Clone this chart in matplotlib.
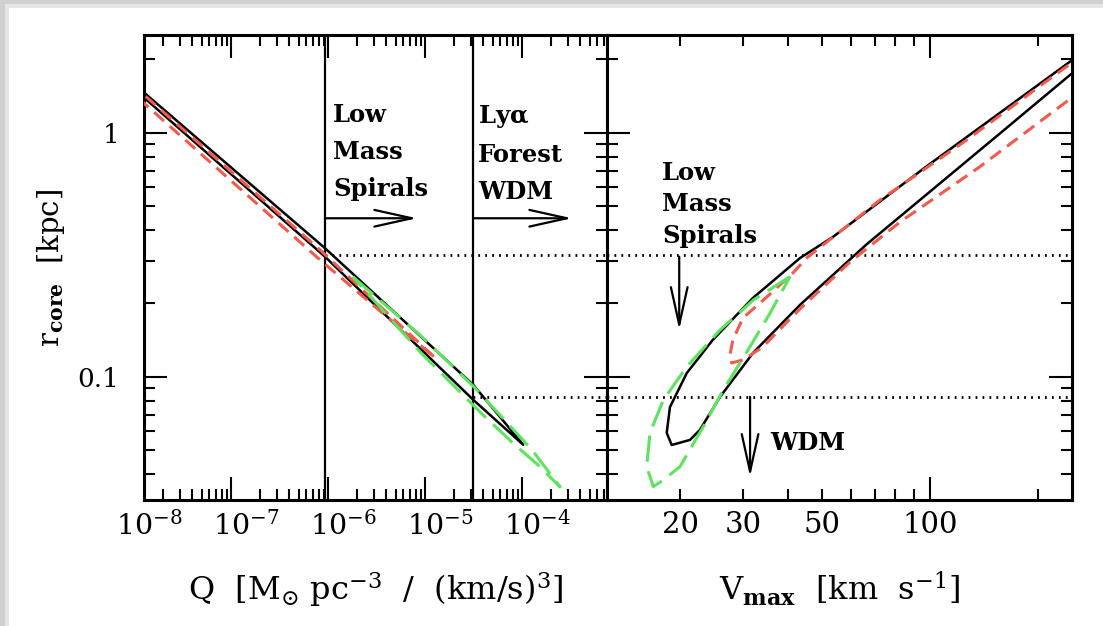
import matplotlib
matplotlib.use('Agg')
import matplotlib.pyplot as plt
import matplotlib.transforms as mtrans
from matplotlib.patches import Rectangle
from matplotlib.ticker import LogLocator, NullFormatter, FixedLocator, FixedFormatter

plt.rcParams['font.family'] = ['DejaVu Serif']
plt.rcParams['mathtext.fontset'] = 'dejavuserif'
plt.rcParams['lines.scale_dashes'] = False

# ---------------- data: left panel (Q vs r_core) ----------------
Q_black_up = [7.17e-9, 1.27e-8, 9.31e-7, 3.15e-5, 1.03e-4]
r_black_up = [1.778, 1.463, 0.337, 0.0927, 0.0527]
Q_black_lo = [7.17e-9, 1.27e-8, 9.31e-7, 3.15e-5, 1.03e-4]
r_black_lo = [1.702, 1.395, 0.311, 0.0805, 0.0527]

Q_red_up = [9.1e-9, 1.27e-8, 8.28e-7, 1.27e-5]
r_red_up = [1.607, 1.431, 0.3316, 0.1197]
Q_red_lo = [9.1e-9, 1.27e-8, 8.28e-7, 1.27e-5]
r_red_lo = [1.489, 1.323, 0.3017, 0.1197]

Q_green = [1.81e-6, 8.88e-6, 3.28e-5, 1.27e-4, 2.47e-4, 1.46e-4, 8.47e-5, 3.87e-5, 8.88e-6, 1.81e-6]
r_green = [0.257, 0.1486, 0.0901, 0.0502, 0.0354, 0.0436, 0.0526, 0.0705, 0.1266, 0.257]

# ---------------- data: right panel (Vmax vs r_core) ----------------
V_black = [271.4, 246.4, 96.9, 53.7, 43.3, 32.0, 24.7, 20.9, 18.75, 18.36, 18.96,
           21.33, 22.74, 25.88, 32.0, 43.3, 66.5, 96.9, 157.0, 246.4, 271.4]
rV_black = [2.148, 1.960, 0.722, 0.376, 0.307, 0.2108, 0.1418, 0.1038, 0.0753, 0.0590, 0.0526,
            0.0552, 0.0607, 0.0828, 0.1254, 0.1973, 0.3495, 0.553, 0.996, 1.729, 1.918]

V_red = [271.4, 246.4, 126.7, 72.5, 45.2, 41.4, 35.0, 30.0, 28.1, 27.6, 27.9,
         30.0, 34.1, 39.6, 43.3, 59.8, 82.5, 138.0, 246.4, 271.4]
rV_red = [2.127, 1.918, 0.936, 0.531, 0.3074, 0.2668, 0.2128, 0.1745, 0.1418, 0.1231, 0.1141,
          0.1174, 0.1327, 0.1665, 0.1900, 0.2960, 0.4317, 0.7276, 1.378, 1.486]

V_green = [40.6, 32.1, 25.88, 20.9, 17.96, 16.48, 16.14, 16.84, 17.96, 20.0,
           23.24, 26.44, 30.7, 35.7, 40.6]
rV_green = [0.2577, 0.2068, 0.1558, 0.1102, 0.0804, 0.0588, 0.0429, 0.0355, 0.0378, 0.0429,
            0.0626, 0.0885, 0.1261, 0.1824, 0.2577]

# limits / markers
Q_lowmass = 9.31e-7
Q_lya = 3.14e-5
r_lowmass = 0.316
r_wdm = 0.0828
Q_ticks = [1e-8, 1e-7, 1e-6, 1e-5, 1e-4]
Q_ticklabels = [r'$10^{-8}$', r'$10^{-7}$', r'$10^{-6}$', r'$10^{-5}$', r'$10^{-4}$']
V_minor = [20, 30, 40, 50, 60, 70, 80, 90, 200]
V_minor_labels = ['20', '30', '', '50', '', '', '', '', '']
V_major = [100]
V_major_labels = ['100']
r_ticks = [0.1, 1]
r_ticklabels = ['0.1', '1']

RED = '#f25a4c'
GREEN = '#5ee35e'
W, H = 1103, 626

fig = plt.figure(figsize=(W / 100, H / 100), dpi=100)
fig.patch.set_facecolor('#d0d0d0')
fig.add_artist(Rectangle((5 / W, 0), 1, 1 - 4 / H, transform=fig.transFigure,
                         facecolor='#e6e6e6', edgecolor='none', zorder=-11))
fig.add_artist(Rectangle((9 / W, 0), 1, 1 - 8 / H, transform=fig.transFigure,
                         facecolor='white', edgecolor='none', zorder=-10))

x0, xm, x1 = 144 / W, 607 / W, 1072 / W
yb, yt = 1 - 500 / H, 1 - 35 / H
axL = fig.add_axes([x0, yb, xm - x0, yt - yb])
axR = fig.add_axes([xm, yb, x1 - xm, yt - yb], sharey=axL)

ylim = (0.0313, 2.52)
for ax in (axL, axR):
    ax.set_xscale('log')
    ax.set_yscale('log')
    ax.set_ylim(*ylim)
    for s in ax.spines.values():
        s.set_linewidth(2.2)
    ax.tick_params(which='both', direction='in', top=True, right=True, width=1.5)
    ax.tick_params(which='major', length=16.5)
    ax.tick_params(which='minor', length=8)
    ax.yaxis.set_major_locator(FixedLocator(r_ticks))
    ax.yaxis.set_minor_locator(LogLocator(base=10, subs=range(2, 10)))

axL.set_xlim(1.268e-8, 7.52e-4)
axR.set_xlim(12.5, 249.5)

# y labels only on the left
axL.yaxis.set_major_formatter(FixedFormatter(r_ticklabels))
axL.yaxis.set_minor_formatter(NullFormatter())
axL.tick_params(axis='y', labelsize=19, pad=18)
axR.tick_params(axis='y', labelleft=False)

# left x ticks
axL.xaxis.set_major_locator(LogLocator(base=10, numticks=20))
axL.xaxis.set_minor_locator(LogLocator(base=10, subs=range(2, 10), numticks=20))
axL.xaxis.set_major_formatter(NullFormatter())
axL.xaxis.set_minor_formatter(NullFormatter())
off = mtrans.ScaledTranslation(-13 / 72, 0, fig.dpi_scale_trans)
btrans = mtrans.blended_transform_factory(axL.transData, axL.transAxes) + off
for q, lab in zip(Q_ticks, Q_ticklabels):
    axL.text(q, -35 / 465, lab, transform=btrans, ha='left', va='baseline',
             fontsize=20.5, clip_on=False)

# right x ticks
axR.xaxis.set_major_locator(FixedLocator(V_major))
axR.xaxis.set_major_formatter(FixedFormatter(V_major_labels))
axR.xaxis.set_minor_locator(FixedLocator(V_minor))
axR.xaxis.set_minor_formatter(FixedFormatter(V_minor_labels))
axR.tick_params(axis='x', which='both', labelsize=21, pad=8)

# ---- curves left ----
axL.plot(Q_black_up + Q_black_lo[::-1], r_black_up + r_black_lo[::-1], color='black', lw=1.8, zorder=3)
axL.plot(Q_red_up + Q_red_lo[::-1], r_red_up + r_red_lo[::-1], color=RED, lw=2.2,
         dashes=(9.5, 5.5), zorder=4)
axL.plot(Q_green, r_green, color=GREEN, lw=2.2, dashes=(19, 7), zorder=4)

# ---- curves right ----
axR.plot(V_black, rV_black, color='black', lw=1.8, zorder=3)
axR.plot(V_red, rV_red, color=RED, lw=2.2, dashes=(9.5, 5.5), zorder=4)
axR.plot(V_green, rV_green, color=GREEN, lw=2.2, dashes=(19, 7), zorder=4)

# ---- limit lines ----
axL.axvline(Q_lowmass, color='black', lw=1.6)
axL.axvline(Q_lya, color='black', lw=1.6)
dot = dict(color='black', lw=2.0, dashes=(1.3, 3.7))
axL.plot([Q_lowmass, 7.52e-4], [r_lowmass, r_lowmass], **dot)
axL.plot([Q_lya, 7.52e-4], [r_wdm, r_wdm], **dot)
axR.plot([12.5, 249.5], [r_lowmass, r_lowmass], **dot)
axR.plot([12.5, 249.5], [r_wdm, r_wdm], **dot)

# ---- arrows & text ----
ap = dict(arrowstyle='->,head_length=1.35,head_width=0.3', lw=1.6, color='black',
          mutation_scale=20, shrinkA=0, shrinkB=0)
axL.annotate('', xy=(8.27e-6, 0.447), xytext=(Q_lowmass, 0.447), arrowprops=ap)
axL.annotate('', xy=(3.28e-4, 0.447), xytext=(Q_lya, 0.447), arrowprops=ap)
axR.annotate('', xy=(19.9, 0.156), xytext=(19.9, 0.311), arrowprops=ap)
axR.annotate('', xy=(31.4, 0.039), xytext=(31.4, r_wdm), arrowprops=ap)

tprops = dict(fontsize=17.5, fontweight='bold', va='top', ha='left')
axL.text(1.13e-6, 1.33, 'Low\nMass\nSpirals', linespacing=1.68, **tprops)
axL.text(3.52e-5, 1.33, 'Ly$\\mathbf{\\alpha}$\nForest\nWDM', linespacing=1.68, **tprops)
axR.text(17.8, 0.77, 'Low\nMass\nSpirals', linespacing=1.40, **tprops)
axR.text(35.7, 0.0536, 'WDM', fontsize=17.5, fontweight='bold', va='center', ha='left')

# ---- axis labels ----
axL.set_xlabel(r'Q  [M$_{{\odot}}$ pc$^{-3}$  /  (km/s)$^3$]', fontsize=23, va='top')
axL.xaxis.set_label_coords(0.5, -70 / 465)
axR.set_xlabel(r'V$_{\mathbf{max}}$  [km  s$^{-1}$]', fontsize=23, va='top')
axR.xaxis.set_label_coords(0.5, -70 / 465)
axL.set_ylabel(r'r$_{\mathbf{core}}$  [kpc]', fontsize=21)
axL.yaxis.set_label_coords(-77 / 463, 0.5)

fig.savefig('out.png', dpi=100, facecolor=fig.get_facecolor())
